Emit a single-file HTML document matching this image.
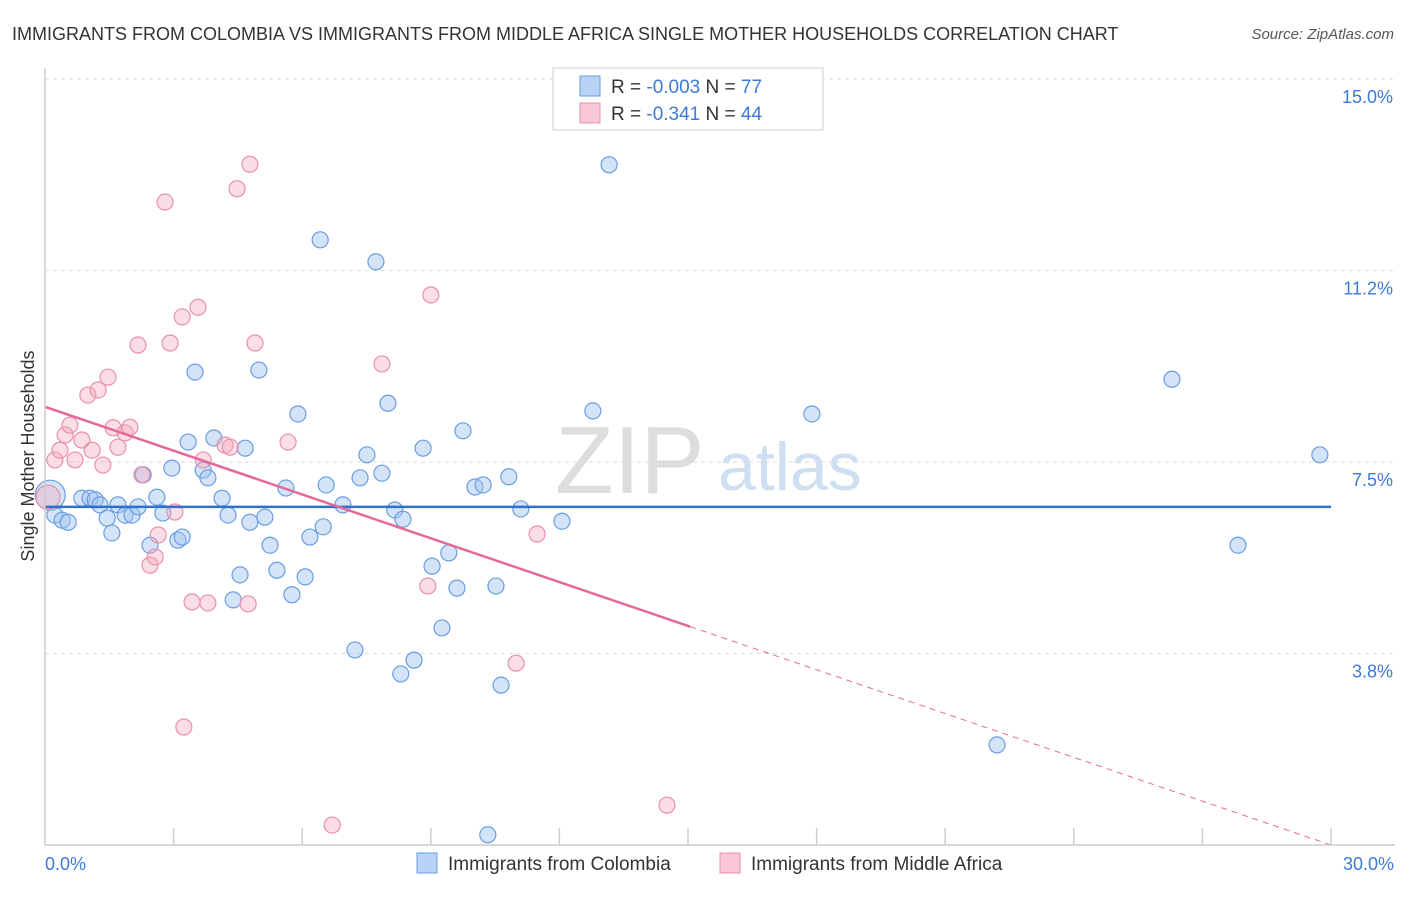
<!DOCTYPE html>
<html><head><meta charset="utf-8"><style>
body{margin:0;background:#fff;font-family:"Liberation Sans",sans-serif}
svg text{font-family:"Liberation Sans",sans-serif}
</style></head><body>
<svg id="c" width="1406" height="892" xmlns="http://www.w3.org/2000/svg">
<text x="12" y="40" font-size="18" fill="#333">IMMIGRANTS FROM COLOMBIA VS IMMIGRANTS FROM MIDDLE AFRICA SINGLE MOTHER HOUSEHOLDS CORRELATION CHART</text>
<text x="1394" y="39" font-size="15" fill="#555" font-style="italic" text-anchor="end">Source: ZipAtlas.com</text>
<text x="555" y="493" font-size="96" fill="#ddd" font-family="Liberation Serif">ZIP</text>
<text x="718" y="490" font-size="68" fill="#cfdff2">atlas</text>
<g id="grid"></g><g id="pts"></g><g id="lines"></g>
<line x1="45" y1="68" x2="45" y2="845" stroke="#ccc" stroke-width="1.5"/>
<line x1="45" y1="845" x2="1395" y2="845" stroke="#ccc" stroke-width="1.5"/>
<text x="45" y="870" font-size="18" fill="#3c7bd9">0.0%</text>
<text x="1394" y="870" font-size="18" fill="#3c7bd9" text-anchor="end">30.0%</text>
<text transform="translate(34,456) rotate(-90)" font-size="18" fill="#333" text-anchor="middle">Single Mother Households</text>
<g>
<rect x="553" y="68" width="270" height="62" fill="#fff" stroke="#ccc"/>
<rect x="580" y="76" width="20" height="20" fill="#b8d3f5" stroke="#6a9de0"/>
<rect x="580" y="103" width="20" height="20" fill="#f8c6d4" stroke="#e890a8"/>
<text x="611" y="93" font-size="19" fill="#333">R = <tspan fill="#3c7bd9">-0.003</tspan>   N = <tspan fill="#3c7bd9">77</tspan></text>
<text x="611" y="120" font-size="19" fill="#333">R =  <tspan fill="#3c7bd9">-0.341</tspan>   N = <tspan fill="#3c7bd9">44</tspan></text>
</g>
<g>
<rect x="417" y="853" width="20" height="20" fill="#b8d3f5" stroke="#6a9de0"/>
<text x="448" y="870" font-size="19" fill="#333">Immigrants from Colombia</text>
<rect x="720" y="853" width="20" height="20" fill="#f8c6d4" stroke="#e890a8"/>
<text x="751" y="870" font-size="19" fill="#333">Immigrants from Middle Africa</text>
</g>
</svg>
<script>
const blueX=[0.12,0.23,0.40,0.54,0.86,1.05,1.17,1.28,1.45,1.56,1.70,1.87,2.03,2.17,2.29,2.61,2.75,2.96,3.10,3.20,2.45,3.34,3.50,3.69,3.80,3.94,4.13,4.27,4.39,4.55,4.67,4.78,4.99,5.13,5.25,5.41,5.62,5.76,5.90,6.07,6.18,6.42,6.49,6.56,6.95,7.23,7.35,7.51,7.72,7.86,8.00,8.16,8.30,8.35,8.61,8.82,9.03,9.26,9.42,9.61,9.75,10.03,10.22,10.33,10.52,10.64,10.82,11.10,12.06,12.78,13.16,17.89,22.21,26.29,27.83,29.74];
const blueY=[6.85,6.46,6.36,6.32,6.79,6.79,6.76,6.66,6.40,6.11,6.66,6.46,6.46,6.62,7.25,6.81,6.50,7.38,5.97,6.03,5.87,7.89,9.26,7.34,7.19,7.97,6.79,6.46,4.80,5.29,7.77,6.32,9.30,6.42,5.87,5.38,6.99,4.90,8.44,5.25,6.03,11.85,6.23,7.05,6.66,3.82,7.19,7.64,11.42,7.28,8.65,6.56,3.35,6.38,3.62,7.77,5.46,4.25,5.72,5.03,8.11,7.01,7.05,0.20,5.07,3.13,7.21,6.58,6.34,8.50,13.32,8.44,1.96,9.12,5.87,7.64];
const pinkX=[0.07,0.23,0.35,0.47,0.58,0.70,0.86,1.00,1.10,1.24,1.35,1.47,1.59,1.70,1.87,1.98,2.17,2.26,2.45,2.57,2.64,2.80,2.92,3.03,3.20,3.24,3.43,3.57,3.80,3.69,4.20,4.32,4.48,4.74,4.78,4.90,5.67,6.70,7.86,8.93,9.00,10.99,11.48,14.51];
const pinkY=[6.81,7.54,7.73,8.03,8.22,7.54,7.93,8.81,7.73,8.91,7.44,9.16,8.17,7.79,8.07,8.18,9.79,7.25,5.48,5.64,6.07,12.59,9.83,6.52,10.34,2.31,4.76,10.53,4.74,7.54,7.83,7.79,12.85,4.72,13.33,9.83,7.89,0.39,9.42,5.07,10.77,3.56,6.09,0.78];
const yTicks=[15.0,11.25,7.5,3.75];
const yTickLabels=["15.0%","11.2%","7.5%","3.8%"];
const blueFit=[6.62,6.62];
const pinkFit=[8.58,0.0];
const fitX=[0,30];
const pinkSolidEnd=15.05;
const NS="http://www.w3.org/2000/svg";
const sx=v=>45+v/30*1286, sy=v=>845-v*51.07;
function mk(t,a,p){const e=document.createElementNS(NS,t);for(const k in a)e.setAttribute(k,a[k]);p.appendChild(e);return e;}
const grid=document.getElementById('grid');
yTicks.forEach((t,i)=>{
  const l=mk('line',{x1:45,x2:1395,y1:sy(t),y2:sy(t),stroke:'#ddd','stroke-dasharray':'4,4'},grid);
  
  
  const tx=mk('text',{x:1393,y:sy(t)+24,'font-size':18,fill:'#3c7bd9','text-anchor':'end'},grid);
  tx.textContent=yTickLabels[i];
  
  
});
for(let k=1;k<=10;k++){
  const l=mk('line',{x1:sx(k*3),x2:sx(k*3),y1:828,y2:845,stroke:'#ccc','stroke-width':1.5},grid);
  
  
}
const pts=document.getElementById('pts');
blueX.forEach((x,i)=>{
  const c=mk('circle',{cx:sx(x),cy:sy(blueY[i]),r:i==0?15:8,fill:'rgba(160,196,240,0.45)',stroke:'#6a9de0','stroke-width':1.2},pts);
  
  
});
pinkX.forEach((x,i)=>{
  const c=mk('circle',{cx:sx(x),cy:sy(pinkY[i]),r:i==0?12:8,fill:'rgba(245,170,190,0.4)',stroke:'#e890a8','stroke-width':1.2},pts);
  
  
});
const lines=document.getElementById('lines');
const bl=mk('line',{x1:sx(fitX[0]),y1:sy(blueFit[0]),x2:sx(fitX[1]),y2:sy(blueFit[1]),stroke:'#2f6fd0','stroke-width':2.5},lines);


const py=x=>pinkFit[0]+(pinkFit[1]-pinkFit[0])*(x-fitX[0])/(fitX[1]-fitX[0]);
const pl=mk('line',{x1:sx(fitX[0]),y1:sy(pinkFit[0]),x2:sx(pinkSolidEnd),y2:sy(py(pinkSolidEnd)),stroke:'#e4699a','stroke-width':2.5},lines);


const pd=mk('line',{x1:sx(pinkSolidEnd),y1:sy(py(pinkSolidEnd)),x2:sx(fitX[1]),y2:sy(pinkFit[1]),stroke:'#e4699a','stroke-width':1,'stroke-dasharray':'6,5'},lines);


</script>
</body></html>
